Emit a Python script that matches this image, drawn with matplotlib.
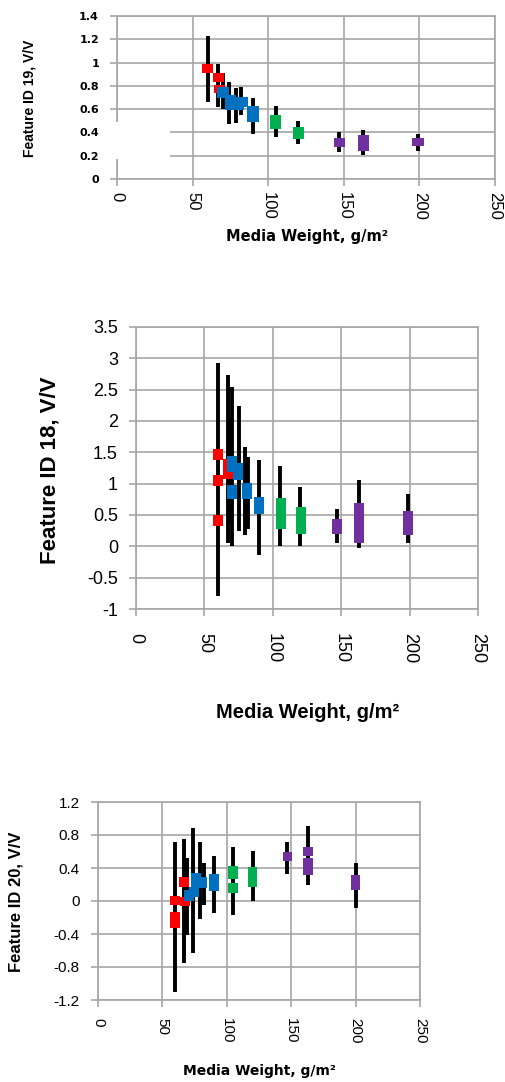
import numpy as np
import matplotlib.pyplot as plt
from matplotlib.patches import Rectangle
from matplotlib.ticker import FuncFormatter

W, H = 505, 1082
RED, BLUE, GREEN, PURPLE = '#FF0000', '#0070C0', '#00B050', '#7030A0'
GRID = '#A6A6A6'

# ---- Feature ID 19 ----
f19_box_x = [60, 67, 68, 70, 75, 80, 83, 90, 105, 120, 147, 163, 199]
f19_box_lo = [0.91, 0.83, 0.74, 0.70, 0.59, 0.59, 0.62, 0.49, 0.43, 0.34, 0.275, 0.24, 0.28]
f19_box_hi = [0.99, 0.91, 0.81, 0.79, 0.72, 0.70, 0.70, 0.63, 0.55, 0.45, 0.35, 0.38, 0.35]
f19_box_c = [RED, RED, RED, BLUE, BLUE, BLUE, BLUE, BLUE, GREEN, GREEN, PURPLE, PURPLE, PURPLE]
f19_wx = [60, 67, 70, 74, 79, 82, 90, 105, 120, 147, 163, 199]
f19_wlo = [0.66, 0.62, 0.60, 0.47, 0.48, 0.55, 0.39, 0.36, 0.30, 0.23, 0.21, 0.24]
f19_whi = [1.23, 0.99, 0.91, 0.83, 0.78, 0.79, 0.70, 0.63, 0.50, 0.40, 0.42, 0.39]

# ---- Feature ID 18 ----
f18_box_x = [60, 60, 60, 67, 70, 74.5, 70, 81, 90, 106, 120.5, 147, 163, 199]
f18_box_lo = [1.38, 0.96, 0.32, 1.08, 1.19, 1.06, 0.75, 0.75, 0.52, 0.27, 0.20, 0.20, 0.06, 0.18]
f18_box_hi = [1.55, 1.14, 0.50, 1.40, 1.44, 1.33, 0.98, 1.01, 0.79, 0.77, 0.62, 0.43, 0.69, 0.56]
f18_box_c = [RED, RED, RED, RED, BLUE, BLUE, BLUE, BLUE, BLUE, GREEN, GREEN, PURPLE, PURPLE, PURPLE]
f18_wx = [60, 67, 68, 70, 75, 80, 82, 90, 105, 120, 147, 163, 199]
f18_wlo = [-0.80, 0.05, 0.38, 0.0, 0.24, 0.18, 0.28, -0.14, 0.0, 0.0, 0.06, -0.02, 0.06]
f18_whi = [2.92, 2.73, 2.04, 2.54, 2.24, 1.59, 1.42, 1.38, 1.28, 0.95, 0.59, 1.06, 0.83]

# ---- Feature ID 20 ----
f20_box_x = [60, 60, 67, 67.5, 70.5, 74.5, 76, 81, 90, 105, 105, 120, 147, 163, 163, 200]
f20_box_lo = [-0.33, -0.05, 0.17, -0.06, 0.0, 0.05, 0.17, 0.16, 0.12, 0.27, 0.10, 0.17, 0.48, 0.55, 0.32, 0.13]
f20_box_hi = [-0.13, 0.065, 0.29, 0.05, 0.13, 0.17, 0.34, 0.29, 0.33, 0.42, 0.22, 0.41, 0.59, 0.65, 0.52, 0.31]
f20_box_c = [RED, RED, RED, RED, BLUE, BLUE, BLUE, BLUE, BLUE, GREEN, GREEN, GREEN,
             PURPLE, PURPLE, PURPLE, PURPLE]
f20_wx = [60, 67, 69, 74, 79, 82, 90, 105, 120, 147, 163, 200]
f20_wlo = [-1.10, -0.75, -0.41, -0.63, -0.22, -0.05, -0.15, -0.17, 0.0, 0.33, 0.20, -0.09]
f20_whi = [0.72, 0.75, 0.52, 0.88, 0.71, 0.46, 0.54, 0.66, 0.61, 0.72, 0.91, 0.46]

x_ticks = [0, 50, 100, 150, 200, 250]


def px_axes(fig, left, top, right, bottom):
    return fig.add_axes([left / W, 1 - bottom / H, (right - left) / W, (bottom - top) / H])


def draw(ax, bx, blo, bhi, bc, wx, wlo, whi, yticks, xpad, ypad, xfont, yfont):
    ax.vlines(wx, wlo, whi, colors='black', linewidth=2.8, zorder=3)
    ax.bar(bx, np.array(bhi) - np.array(blo), bottom=blo, width=7.5, color=bc, zorder=4)
    ax.set_xlim(0, 250)
    ax.set_ylim(yticks[0], yticks[-1])
    ax.set_xticks(x_ticks)
    ax.set_yticks(yticks)
    ax.yaxis.set_major_formatter(FuncFormatter(lambda v, p: f'{v:g}'))
    ax.grid(True, color=GRID, linewidth=1.2, zorder=0)
    ax.set_axisbelow(True)
    for s in ax.spines.values():
        s.set_color(GRID)
        s.set_linewidth(1.2)
    ax.tick_params(axis='both', colors=GRID, length=5, width=1.2)
    ax.tick_params(axis='x', labelcolor='black', pad=xpad, labelrotation=270)
    ax.tick_params(axis='y', labelcolor='black', pad=ypad)
    for lab in ax.get_xticklabels():
        lab.set(**xfont)
        lab.set_verticalalignment('top')
    for lab in ax.get_yticklabels():
        lab.set(**yfont)


fig = plt.figure(figsize=(W / 100, H / 100), dpi=100)

narrow = ['Liberation Sans Narrow', 'Liberation Sans', 'DejaVu Sans']

# top chart
ax1 = px_axes(fig, 117, 16, 495, 179)
draw(ax1, f19_box_x, f19_box_lo, f19_box_hi, f19_box_c, f19_wx, f19_wlo, f19_whi,
     [0, 0.2, 0.4, 0.6, 0.8, 1.0, 1.2, 1.4], 4, 8,
     dict(family=narrow, size=12), dict(family='DejaVu Sans', weight='bold', size=8))
fig.text(30 / W, 1 - 98 / H, 'Feature ID 19, V/V', rotation=90, ha='center', va='center',
         family=narrow, weight='bold', size=10)
fig.text(307 / W, 1 - 237 / H, 'Media Weight, g/m²', ha='center', va='center',
         family='DejaVu Sans', weight='bold', size=10.5)
fig.patches.append(Rectangle((103 / W, 1 - 159 / H), 67 / W, 37 / H, transform=fig.transFigure,
                             facecolor='white', edgecolor='none', zorder=10))

# middle chart
ax2 = px_axes(fig, 136, 327, 478, 609)
draw(ax2, f18_box_x, f18_box_lo, f18_box_hi, f18_box_c, f18_wx, f18_wlo, f18_whi,
     [-1, -0.5, 0, 0.5, 1, 1.5, 2, 2.5, 3, 3.5], 12, 8,
     dict(family='Liberation Sans', size=13), dict(family=narrow, size=13))
fig.text(50 / W, 1 - 470 / H, 'Feature ID 18, V/V', rotation=90, ha='center', va='center',
         family=narrow, weight='bold', size=16)
fig.text(308 / W, 1 - 712 / H, 'Media Weight, g/m²', ha='center', va='center',
         family=narrow, weight='bold', size=14.5)

# bottom chart
ax3 = px_axes(fig, 98, 802, 420, 1000)
draw(ax3, f20_box_x, f20_box_lo, f20_box_hi, f20_box_c, f20_wx, f20_wlo, f20_whi,
     [-1.2, -0.8, -0.4, 0, 0.4, 0.8, 1.2], 8, 8,
     dict(family='Liberation Sans', size=11), dict(family='Liberation Sans', size=11))
fig.text(16 / W, 1 - 902 / H, 'Feature ID 20, V/V', rotation=90, ha='center', va='center',
         family=narrow, weight='bold', size=12)
fig.text(259 / W, 1 - 1071 / H, 'Media Weight, g/m²', ha='center', va='center',
         family='DejaVu Sans', weight='bold', size=10)

fig.savefig('out.png', dpi=100)
